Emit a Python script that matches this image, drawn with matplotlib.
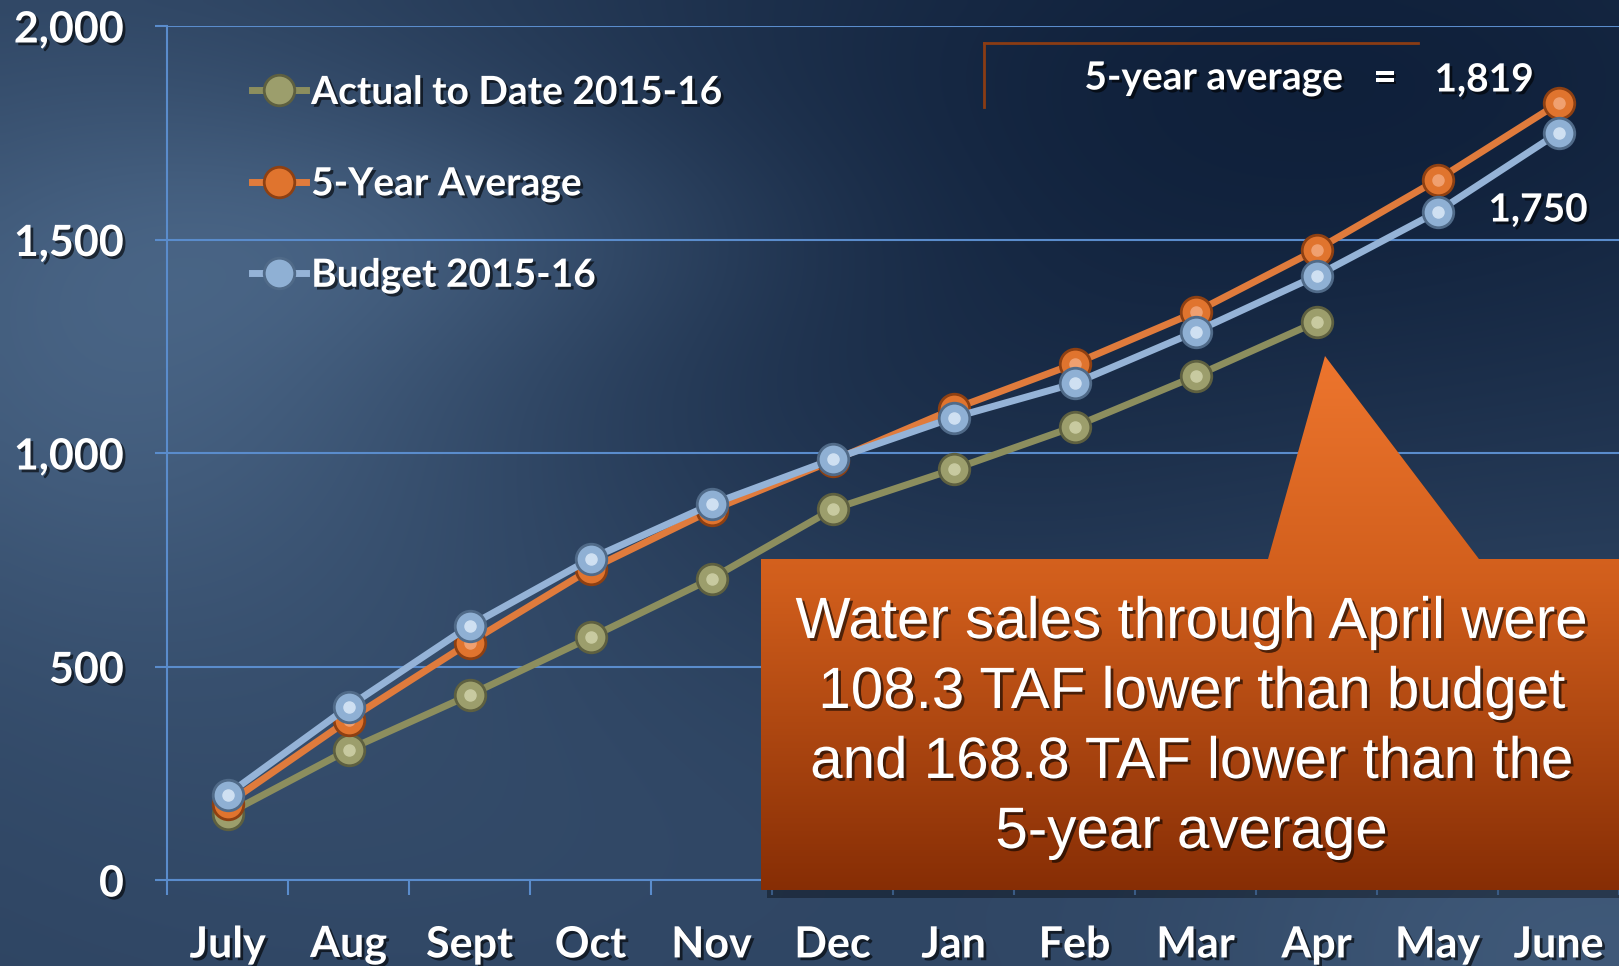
import numpy as np
import matplotlib.pyplot as plt
import matplotlib.patheffects as pe
from matplotlib.patches import Polygon

months = ["July", "Aug", "Sept", "Oct", "Nov", "Dec", "Jan", "Feb", "Mar", "Apr", "May", "June"]
actual = [155, 305, 433, 568, 706, 868, 962, 1062, 1180, 1307]
five_yr = [179, 375, 556, 728, 866, 982, 1103, 1209, 1330, 1476, 1640, 1819]
budget = [200, 406, 595, 752, 880, 985, 1083, 1163, 1284, 1415, 1565, 1750]
yticks = [0, 500, 1000, 1500, 2000]
ylabels = ["0", "500", "1,000", "1,500", "2,000"]

W, H = 1619, 966
fig = plt.figure(figsize=(W / 100, H / 100), dpi=100)

# background: dark blue with cloudy light areas
bg = fig.add_axes([0, 0, 1, 1])
X, Y = np.meshgrid(np.linspace(0, W, 200), np.linspace(0, H, 120))
def blob(cx, cy, sx, sy, a):
    return a * np.exp(-(((X - cx) / sx) ** 2 + ((Y - cy) / sy) ** 2) / 2)
w = 0.5 + blob(120, 330, 280, 220, 0.4) + blob(480, 230, 260, 90, 0.2) \
    + blob(450, 800, 550, 250, 0.12) + blob(1620, 960, 300, 200, 0.3) \
    - blob(1350, 80, 550, 280, 0.38) - blob(900, 450, 250, 200, 0.1)
w = np.clip(w, 0, 1)[..., None]
dark = np.array([0.03, 0.09, 0.19])
light = np.array([0.30, 0.41, 0.54])
bg.imshow(dark + w * (light - dark), extent=[0, W, H, 0], aspect="auto", interpolation="bicubic")
bg.set_xlim(0, W); bg.set_ylim(H, 0)
bg.axis("off")

shadow = [pe.withSimplePatchShadow(offset=(2, -2), shadow_rgbFace="black", alpha=0.6)]
bold = dict(family=["Lato", "DejaVu Sans"], weight="bold", color="white")
gridc = "#5a8ccc"

ax = fig.add_axes([167 / W, 86 / H, 1452 / W, 854 / H])
ax.patch.set_alpha(0)
x = np.arange(len(months))

ax.plot(x[:len(actual)], actual, color="#8c8e5e", lw=5, marker="o", ms=22,
        mfc="#9c9e6c", mec="#5e6040", mew=2, label="Actual to Date 2015-16", zorder=3)
ax.plot(x, five_yr, color="#e07b3c", lw=5, marker="o", ms=22,
        mfc="#e0742e", mec="#8e4012", mew=2, label="5-Year Average", zorder=4)
ax.plot(x, budget, color="#95b3d7", lw=5, marker="o", ms=22,
        mfc="#8fb0d4", mec="#506a88", mew=2, label="Budget 2015-16", zorder=5)
# small highlights on markers
ax.plot(x[:len(actual)], actual, "o", ms=8, color="#c8caa0", zorder=3)
ax.plot(x, five_yr, "o", ms=8, color="#f0a070", zorder=4)
ax.plot(x, budget, "o", ms=8, color="#cfe0f2", zorder=5)

ax.set_xlim(-0.5, 11.5)
ax.set_ylim(0, 2000)
ax.set_yticks(yticks)
ax.set_yticklabels(ylabels)
ax.yaxis.grid(True, color=gridc, lw=1.5)
ax.set_axisbelow(True)
for s in ["top", "right"]:
    ax.spines[s].set_visible(False)
for s in ["left", "bottom"]:
    ax.spines[s].set_color(gridc)
    ax.spines[s].set_linewidth(1.5)
ax.tick_params(axis="y", length=9, color=gridc, width=1.5, pad=22)
ax.set_xticks(x)
ax.set_xticklabels(months)
ax.set_xticks(np.arange(-0.5, 12, 1), minor=True)
ax.tick_params(axis="x", which="major", length=0, pad=32)
ax.tick_params(axis="x", which="minor", length=11, color=gridc, width=1.5)
for t in ax.get_xticklabels() + ax.get_yticklabels():
    t.set(**bold, fontsize=31)
    t.set_path_effects(shadow)

leg = ax.legend(loc="upper left", bbox_to_anchor=(252 / W, 1 - 75 / H), bbox_transform=fig.transFigure,
                frameon=False, handlelength=1.4, handletextpad=0.12, labelspacing=1.45,
                borderpad=0, borderaxespad=0,
                prop=dict(family=["Lato", "DejaVu Sans"], weight="bold", size=28))
for t in leg.get_texts():
    t.set_color("white")
    t.set_path_effects(shadow)

# overlay in pixel coordinates for annotations and callout
ov = fig.add_axes([0, 0, 1, 1])
ov.set_xlim(0, W); ov.set_ylim(H, 0)
ov.axis("off")

ov.plot([984, 1418], [43, 43], color="#8a3c14", lw=2)
ov.plot([984, 984], [43, 107], color="#8a3c14", lw=2)
ov.text(1214, 78, "5-year average", ha="center", va="center", fontsize=28, path_effects=shadow, **bold)
ov.text(1385, 78, "=", ha="center", va="center", fontsize=28, path_effects=shadow, **bold)
ov.text(1484, 80, "1,819", ha="center", va="center", fontsize=28, path_effects=shadow, **bold)
ov.text(1538, 210, "1,750", ha="center", va="center", fontsize=28, path_effects=shadow, **bold)

pts = [(761, 559), (1268, 559), (1325, 356), (1479, 559), (1619, 559), (1619, 890), (761, 890)]
sh = Polygon([(px + 6, py + 8) for px, py in pts], closed=True, fc="black", alpha=0.35, ec="none", zorder=0)
ov.add_patch(sh)
poly = Polygon(pts, closed=True, fc="none", ec="none")
ov.add_patch(poly)
yy = np.linspace(356, 890, 200)
top = np.array([0.93, 0.46, 0.18])
mid = np.array([0.82, 0.37, 0.11])
bot = np.array([0.53, 0.18, 0.02])
grad = np.where((yy < 580)[:, None],
                top + ((yy - 356) / 224)[:, None] * (mid - top),
                mid + ((yy - 580) / 310)[:, None] * (bot - mid))
im = ov.imshow(np.repeat(grad[:, None, :], 4, axis=1), extent=[761, 1619, 890, 356], aspect="auto", zorder=1)
im.set_clip_path(poly)
ov.set_xlim(0, W); ov.set_ylim(H, 0)

ov.text(1192, 728, "Water sales through April were\n108.3 TAF lower than budget\nand 168.8 TAF lower than the\n5-year average",
        ha="center", va="center", fontsize=42, color="white", linespacing=1.38,
        family=["Liberation Sans", "DejaVu Sans"], path_effects=shadow, zorder=3)

fig.savefig("out.png", dpi=100)
